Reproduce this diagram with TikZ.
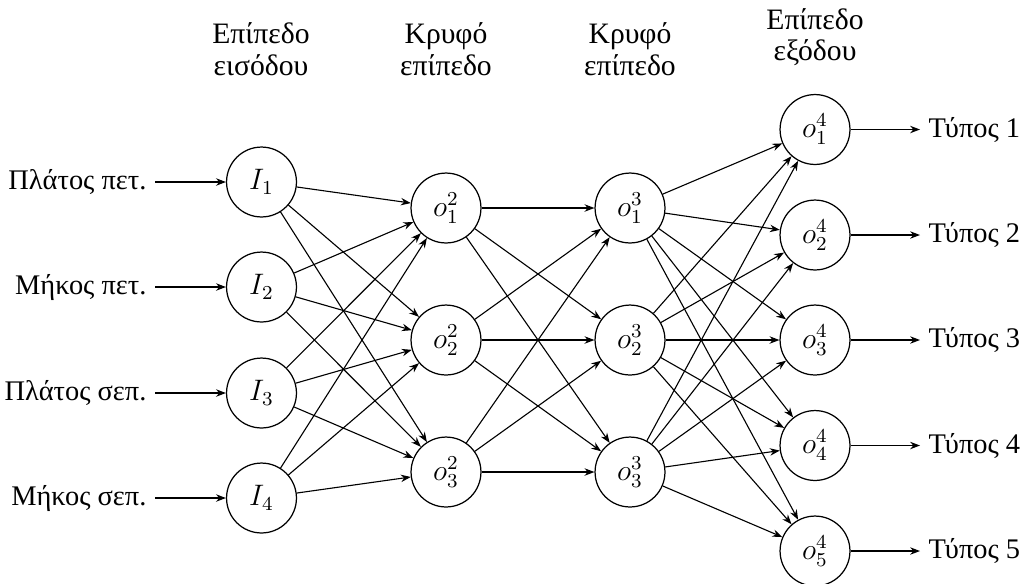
\documentclass[tikz,border=0pt]{standalone}
\usepackage{fontspec}
\setmainfont{Liberation Serif}
\usetikzlibrary{arrows.meta}
\begin{document}
\begin{tikzpicture}[x=0.4048pt,y=-0.4048pt,
  neuron/.style={draw,circle,minimum size=28.3pt,inner sep=0pt,line width=0.5pt,font=\fontsize{12}{14}\selectfont},
  conn/.style={-{Stealth[length=4pt,width=3pt]},line width=0.45pt},
  lbl/.style={font=\fontsize{11.5}{12}\selectfont,inner sep=3.3pt},
  hdr/.style={font=\fontsize{12}{12.8}\selectfont,align=center}]
\useasboundingbox (0,0) rectangle (1029,583);
% headers
\node[hdr] (hin) at (261,49) {Επίπεδο\\εισόδου};
\node[hdr] (hh1) at (446,49) {Κρυφό\\επίπεδο};
\node[hdr] (hh2) at (630,49) {Κρυφό\\επίπεδο};
\node[hdr] (hout) at (815,37) {Επίπεδο\\εξόδου};
% input
\foreach \i/\y in {1/182,2/287,3/393,4/498}
  \node[neuron] (I\i) at (261.5,\y) {$I_{\i}$};
% hidden 1
\foreach \i/\y in {1/208,2/340,3/472}
  \node[neuron] (a\i) at (446,\y) {$o^{2}_{\i}$};
% hidden 2
\foreach \i/\y in {1/208,2/340,3/472}
  \node[neuron] (b\i) at (630,\y) {$o^{3}_{\i}$};
% output
\foreach \i/\y in {1/129.5,2/235,3/340,4/445.5,5/551}
  \node[neuron] (c\i) at (815,\y) {$o^{4}_{\i}$};
% input labels
\node[lbl,anchor=east] (l1) at (155,182) {Πλάτος πετ.};
\node[lbl,anchor=east] (l2) at (155,287) {Μήκος πετ.};
\node[lbl,anchor=east] (l3) at (155,393) {Πλάτος σεπ.};
\node[lbl,anchor=east] (l4) at (155,498) {Μήκος σεπ.};
\foreach \i in {1,...,4} \draw[conn] (l\i) -- (I\i);
% output labels
\foreach \i/\y in {1/129.5,2/235,3/340,4/445.5,5/551}
  \node[lbl,anchor=west] (r\i) at (920,\y) {Τύπος \i};
\foreach \i in {1,...,5} \draw[conn] (c\i) -- (r\i);
% connections
\foreach \i in {1,...,4} \foreach \j in {1,2,3} \draw[conn] (I\i) -- (a\j);
\foreach \i in {1,2,3} \foreach \j in {1,2,3} \draw[conn] (a\i) -- (b\j);
\foreach \i in {1,2,3} \foreach \j in {1,...,5} \draw[conn] (b\i) -- (c\j);
\end{tikzpicture}
\end{document}
